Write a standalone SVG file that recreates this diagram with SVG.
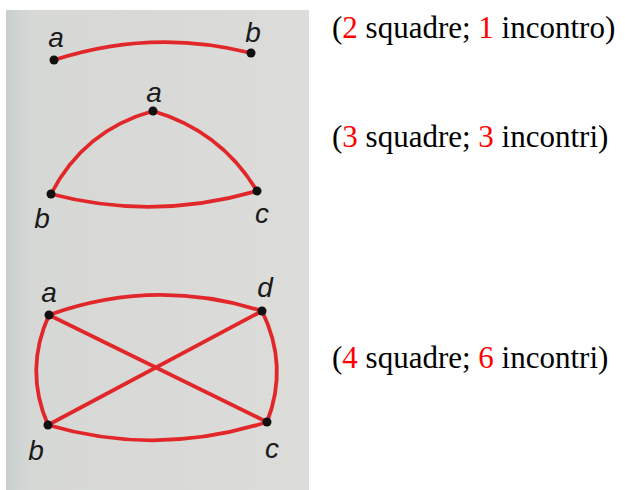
<svg xmlns="http://www.w3.org/2000/svg" width="625" height="490" viewBox="0 0 625 490">
<defs>
<linearGradient id="bg" x1="0" y1="0" x2="1" y2="0">
<stop offset="0" stop-color="#c8d0cf"/>
<stop offset="0.08" stop-color="#d6d8d6"/>
<stop offset="1" stop-color="#dcdcd9"/>
</linearGradient>
<style>
.e{fill:none;stroke:#e1272a;stroke-width:3.8;stroke-linecap:round}
.d{fill:#111}
.l{font-family:"Liberation Sans",Arial,sans-serif;font-style:italic;font-size:28px;fill:#1a1a1a;text-anchor:middle}
.t{font-family:"Liberation Serif","Times New Roman",serif;font-size:31px;fill:#000}
.n{fill:#f00}
</style>
</defs>
<rect width="625" height="490" fill="#fff"/>
<rect x="6" y="10" width="303" height="480" fill="url(#bg)"/>
<g id="connectors">
<path class="e" d="M54,60 Q152,28 251,53"/>
<path class="e" d="M153,111 Q84,130 51,194"/>
<path class="e" d="M153,111 Q221,131 257,191"/>
<path class="e" d="M51,194 Q154,221 257,191"/>
<path class="e" d="M49,315 Q155,277 262,311"/>
<path class="e" d="M48,425 Q157,457 267,422"/>
<path class="e" d="M49,315 Q24,370 48,425"/>
<path class="e" d="M262,311 Q289,366 267,422"/>
<path class="e" d="M49,315 L267,422"/>
<path class="e" d="M262,311 L48,425"/>
</g>
<g id="g1a"><circle class="d" cx="54" cy="60" r="4.5"/><text class="l" x="56" y="47">a</text></g>
<g id="g1b"><circle class="d" cx="251" cy="53" r="4.5"/><text class="l" x="253" y="42">b</text></g>
<g id="g2a"><circle class="d" cx="153" cy="111" r="4.5"/><text class="l" x="154" y="102">a</text></g>
<g id="g2b"><circle class="d" cx="51" cy="194" r="4.5"/><text class="l" x="42" y="228">b</text></g>
<g id="g2c"><circle class="d" cx="257" cy="191" r="4.5"/><text class="l" x="262" y="223">c</text></g>
<g id="g3a"><circle class="d" cx="49" cy="315" r="4.5"/><text class="l" x="49" y="302">a</text></g>
<g id="g3d"><circle class="d" cx="262" cy="311" r="4.5"/><text class="l" x="265" y="297">d</text></g>
<g id="g3b"><circle class="d" cx="48" cy="425" r="4.5"/><text class="l" x="36" y="460">b</text></g>
<g id="g3c"><circle class="d" cx="267" cy="422" r="4.5"/><text class="l" x="272" y="458">c</text></g>
<g id="captions">
<text class="t" x="332" y="38">(<tspan class="n">2</tspan> squadre; <tspan class="n">1</tspan> incontro)</text>
<text class="t" x="332" y="147">(<tspan class="n">3</tspan> squadre; <tspan class="n">3</tspan> incontri)</text>
<text class="t" x="332" y="368">(<tspan class="n">4</tspan> squadre; <tspan class="n">6</tspan> incontri)</text>
</g>
</svg>
